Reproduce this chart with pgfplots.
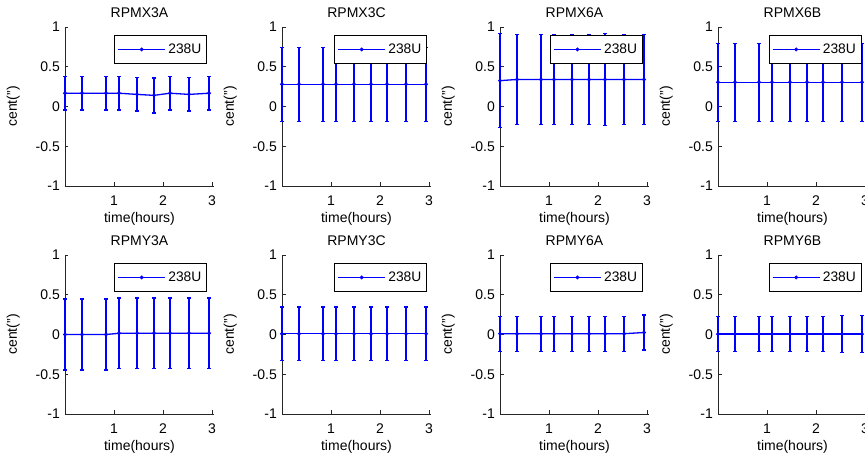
\documentclass[border=0pt]{standalone}
\usepackage{fontspec}
\setmainfont{Liberation Sans}
\usepackage{pgfplots}
\pgfplotsset{compat=1.18}
\pgfplotsset{
  every axis title/.style={at={(0.5,1)}, anchor=base, yshift=9pt, inner sep=0pt, font=\fontsize{14}{16}\selectfont},
  every axis x label/.style={at={(axis description cs:0.5,0)}, anchor=base, yshift=-36.5pt, inner sep=0pt, font=\fontsize{14}{16}\selectfont},
  every axis y label/.style={at={(axis description cs:-0.347,0.5)}, rotate=90, anchor=center, inner sep=0pt, font=\fontsize{14}{16}\selectfont},
  panel/.style={
    scale only axis, width=149pt, height=159pt,
    xmin=0, xmax=3.0408, ymin=-1, ymax=1,
    axis x line*=bottom, axis y line*=left,
    axis line style={black!85, line width=0.9pt, -},
    tick align=inside, major tick length=3.5pt,
    tick style={black!85, line width=0.9pt},
    xtick={1,2,3}, xticklabels={1,2,3},
    ytick={-1,-0.5,0,0.5,1}, yticklabels={-1,-0.5,0,0.5,1},
    xticklabel style={anchor=base, yshift=-20pt, inner sep=0pt, font=\fontsize{14}{16}\selectfont},
    yticklabel style={anchor=east, xshift=-5pt, inner sep=0pt, font=\fontsize{14}{16}\selectfont},
    xlabel={time(hours)}, ylabel={cent(\symbol{34})},
    clip=false,
    legend cell align=left,
    legend style={anchor=north east, draw=black, line width=0.9pt, fill=white,
      inner xsep=3pt, inner ysep=6pt, nodes={inner sep=2.5pt},
      font=\fontsize{13.8}{15}\selectfont},
    legend image code/.code={\draw[##1, mark repeat=2, mark phase=2] plot coordinates {(0pt,0pt) (23.5pt,0pt) (47pt,0pt)};},
  },
}
\definecolor{mblue}{RGB}{0,0,255}
\newcommand{\panel}[5]{%
\begin{axis}[panel, at={(#1pt,#2pt)}, anchor=north west, title={#3}, legend style={at={(#4,0.95)}}]
\addplot[mblue, line width=1.3pt, mark=*, mark size=1.7pt, mark options={solid, line width=0.5pt},
  error bars/.cd, y dir=both, y explicit,
  error bar style={line width=1.3pt, mblue},
  error mark options={rotate=90, mark size=1.9pt, line width=1.3pt, mblue}] coordinates {#5};
\legend{238U}
\end{axis}}
\begin{document}
\begin{tikzpicture}
\panel{65}{430}{RPMX3A}{0.955}{(0,0.167) +- (0,0.21) (0.3469,0.167) +- (0,0.21) (0.8367,0.167) +- (0,0.21) (1.1020,0.167) +- (0,0.21) (1.4694,0.152) +- (0,0.21) (1.8163,0.14) +- (0,0.22) (2.1429,0.167) +- (0,0.21) (2.5306,0.152) +- (0,0.21) (2.9388,0.167) +- (0,0.21)}
\panel{282}{430}{RPMX3C}{0.975}{(0,0.28) +- (0,0.465) (0.3469,0.28) +- (0,0.465) (0.8367,0.28) +- (0,0.465) (1.1020,0.28) +- (0,0.465) (1.4694,0.28) +- (0,0.465) (1.8163,0.28) +- (0,0.465) (2.1429,0.28) +- (0,0.465) (2.5306,0.28) +- (0,0.465) (2.9388,0.28) +- (0,0.465)}
\panel{500}{430}{RPMX6A}{0.96}{(0,0.325) +- (0,0.59) (0.3469,0.34) +- (0,0.565) (0.8367,0.34) +- (0,0.565) (1.1020,0.34) +- (0,0.565) (1.4694,0.34) +- (0,0.565) (1.8163,0.34) +- (0,0.565) (2.1429,0.34) +- (0,0.575) (2.5306,0.34) +- (0,0.565) (2.9388,0.34) +- (0,0.565)}
\panel{718}{430}{RPMX6B}{0.965}{(0,0.305) +- (0,0.49) (0.3469,0.305) +- (0,0.49) (0.8367,0.305) +- (0,0.49) (1.1020,0.305) +- (0,0.49) (1.4694,0.305) +- (0,0.49) (1.8163,0.305) +- (0,0.49) (2.1429,0.305) +- (0,0.49) (2.5306,0.305) +- (0,0.49) (2.9388,0.305) +- (0,0.49)}
\panel{65}{202}{RPMY3A}{0.955}{(0,0) +- (0,0.445) (0.3469,0) +- (0,0.445) (0.8367,0) +- (0,0.445) (1.1020,0.015) +- (0,0.445) (1.4694,0.015) +- (0,0.445) (1.8163,0.015) +- (0,0.445) (2.1429,0.015) +- (0,0.445) (2.5306,0.015) +- (0,0.445) (2.9388,0.015) +- (0,0.445)}
\panel{282}{202}{RPMY3C}{0.975}{(0,0.01) +- (0,0.335) (0.3469,0.01) +- (0,0.335) (0.8367,0.01) +- (0,0.335) (1.1020,0.01) +- (0,0.335) (1.4694,0.01) +- (0,0.335) (1.8163,0.01) +- (0,0.335) (2.1429,0.01) +- (0,0.335) (2.5306,0.01) +- (0,0.335) (2.9388,0.01) +- (0,0.335)}
\panel{500}{202}{RPMY6A}{0.96}{(0,0.01) +- (0,0.22) (0.3469,0.01) +- (0,0.22) (0.8367,0.01) +- (0,0.22) (1.1020,0.01) +- (0,0.22) (1.4694,0.01) +- (0,0.22) (1.8163,0.01) +- (0,0.22) (2.1429,0.01) +- (0,0.22) (2.5306,0.01) +- (0,0.22) (2.9388,0.025) +- (0,0.22)}
\panel{718}{202}{RPMY6B}{0.965}{(0,0.005) +- (0,0.22) (0.3469,0.005) +- (0,0.22) (0.8367,0.005) +- (0,0.22) (1.1020,0.005) +- (0,0.22) (1.4694,0.005) +- (0,0.22) (1.8163,0.005) +- (0,0.22) (2.1429,0.005) +- (0,0.22) (2.5306,0.005) +- (0,0.235) (2.9388,0.005) +- (0,0.235)}
\pgfresetboundingbox
\path (0pt,0pt) rectangle (865pt,457pt);
\end{tikzpicture}
\end{document}
